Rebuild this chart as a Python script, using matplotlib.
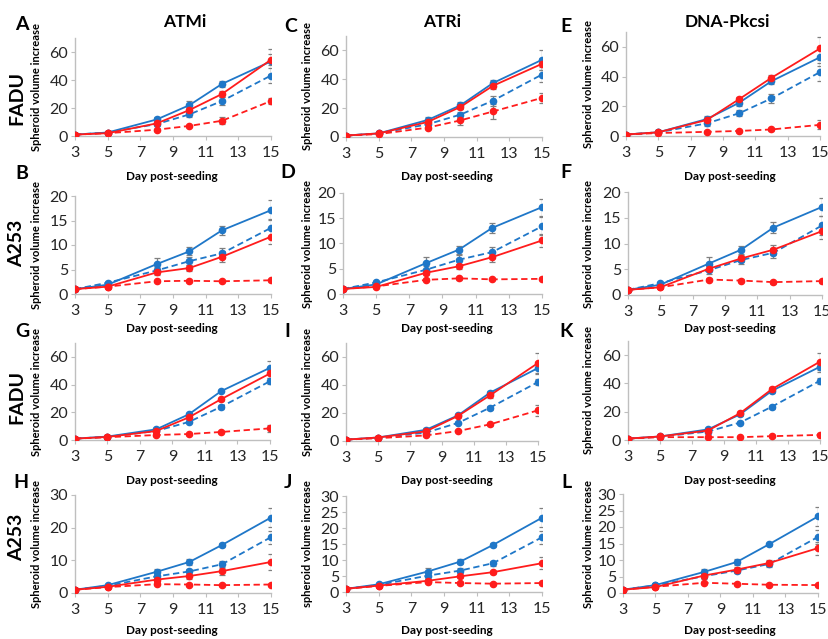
import matplotlib
matplotlib.use("Agg")
import matplotlib.pyplot as plt

plt.rcParams['font.family'] = ['Lato', 'DejaVu Sans']

days = [3, 5, 8, 10, 12, 15]
day_ticks = [3, 5, 7, 9, 11, 13, 15]

# series order: blue solid, blue dashed, red solid, red dashed
A_mean = [[1, 2.5, 11.8, 22, 37.2, 53.3], [1, 2.5, 8.5, 15.4, 25, 43.2],
          [1, 2, 9, 18.5, 30, 54.5], [1, 2, 4.5, 7.2, 10.9, 25]]
A_err = [[0, 0.3, 2, 3, 2, 9], [0, 0.3, 1.5, 2, 3, 5.5],
         [0, 0.3, 1, 1.5, 2, 4], [0, 0.2, 0.8, 1, 2.5, 2]]
C_mean = [[1, 2.5, 11.8, 21.9, 37.4, 53.5], [1, 2.5, 8.8, 15.5, 25.2, 43.3],
          [1, 2.5, 10.4, 20.8, 35.5, 50.7], [1, 2, 6.5, 11.5, 17.7, 27.1]]
C_err = [[0, 0.3, 2, 2.5, 2, 7], [0, 0.3, 1.5, 2, 3.5, 5.5],
         [0, 0.3, 1, 1.5, 2, 4], [0, 0.2, 1, 3, 5, 3.5]]
E_mean = [[1, 2.5, 11.4, 22.4, 36.9, 53], [1, 2.5, 8.5, 15.3, 25.3, 43],
          [1, 2.5, 10.8, 24.8, 39.2, 58.9], [1, 2, 2.8, 3.4, 4.4, 7.5]]
E_err = [[0, 0.3, 2, 2.5, 2, 6], [0, 0.3, 1.5, 2, 3, 6],
         [0, 0.3, 1, 1.5, 2, 8], [0, 0.2, 0.5, 0.8, 1, 3]]
B_mean = [[1, 1.9, 6.1, 8.7, 13, 17.1], [1, 2.3, 4.8, 6.7, 8.3, 13.5],
          [1, 1.5, 4.4, 5.3, 7.6, 11.7], [1, 1.5, 2.6, 2.7, 2.6, 2.8]]
B_err = [[0, 0.3, 1.2, 0.8, 0.9, 2], [0, 0.3, 0.8, 0.8, 1, 1.8],
         [0, 0.2, 0.5, 0.6, 1, 1.5], [0, 0.1, 0.2, 0.2, 0.2, 0.3]]
D_mean = [[1, 1.9, 6.1, 8.8, 13.1, 17.2], [1, 2.3, 4.8, 6.8, 8.3, 13.4],
          [1, 1.4, 4.2, 5.5, 7.3, 10.6], [1, 1.5, 2.8, 3.1, 2.9, 3]]
D_err = [[0, 0.3, 1.2, 0.8, 1, 1.7], [0, 0.3, 0.8, 0.9, 1, 1.8],
         [0, 0.2, 0.4, 0.5, 0.9, 1.2], [0, 0.1, 0.3, 0.3, 0.2, 0.3]]
F_mean = [[1, 2, 6.1, 8.8, 13.1, 17.1], [1, 2.3, 4.8, 6.8, 8.2, 13.5],
          [1, 1.5, 5.1, 7.1, 8.8, 12.4], [1, 1.5, 3, 2.8, 2.5, 2.7]]
F_err = [[0, 0.3, 1.2, 0.8, 1, 1.8], [0, 0.3, 0.8, 0.8, 1, 1.8],
         [0, 0.2, 0.5, 0.6, 1, 1.5], [0, 0.1, 0.3, 0.3, 0.3, 0.3]]
G_mean = [[1, 2.5, 7.7, 18.5, 35.3, 52.1], [1, 2.3, 6.5, 13, 24, 42.4],
          [1, 2.2, 6.5, 16.3, 29.5, 48], [1, 2, 3.6, 4.3, 5.8, 8.4]]
G_err = [[0, 0.3, 1, 1, 1, 5], [0, 0.3, 1, 1, 1.5, 2],
         [0, 0.3, 1, 1, 1, 3], [0, 0.2, 0.5, 0.5, 0.8, 2.5]]
I_mean = [[1, 2.5, 8, 18.3, 34.5, 52.1], [1, 2.3, 6, 12.9, 23.8, 42.1],
          [1, 2.5, 6.9, 17.9, 32.6, 55.7], [1, 2, 4, 7.1, 11.9, 21.9]]
I_err = [[0, 0.3, 1, 1, 1.5, 4], [0, 0.3, 1, 1, 1.5, 2],
         [0, 0.3, 1, 1, 2, 7], [0, 0.2, 0.5, 1, 1, 4]]
K_mean = [[1, 2.5, 7.5, 18.1, 34.8, 51.8], [1, 2.3, 6, 12.3, 23.6, 41.9],
          [1, 2.5, 6.7, 18.9, 36, 55.4], [1, 2, 2, 2, 2.7, 3.6]]
K_err = [[0, 0.3, 1, 1, 1.5, 4], [0, 0.3, 1, 1, 1.5, 2],
         [0, 0.3, 1, 1, 1.5, 6], [0, 0.2, 0.3, 0.3, 0.5, 1]]
H_mean = [[1, 2.4, 6.5, 9.5, 14.7, 23.1], [1, 2.2, 5.1, 6.6, 8.8, 17.1],
          [1, 1.9, 4.1, 5.2, 6.7, 9.5], [1, 1.8, 2.7, 2.6, 2.4, 2.6]]
H_err = [[0, 0.3, 1, 0.8, 0.5, 3], [0, 0.3, 1, 0.8, 1, 2],
         [0, 0.2, 0.8, 0.8, 1.2, 2.5], [0, 0.1, 0.3, 0.3, 0.3, 0.3]]
J_mean = [[1, 2.4, 6.4, 9.5, 14.7, 23.2], [1, 2.2, 5.1, 6.7, 9, 17.1],
          [1, 2, 3.5, 4.9, 6.2, 9], [1, 1.9, 3.1, 2.8, 2.6, 2.8]]
J_err = [[0, 0.3, 1, 0.8, 0.5, 3], [0, 0.3, 1, 0.8, 0.8, 2],
         [0, 0.2, 0.5, 0.5, 0.5, 1.8], [0, 0.1, 0.3, 0.3, 0.3, 0.3]]
L_mean = [[1, 2.4, 6.4, 9.4, 14.8, 23.2], [1, 2.3, 5.1, 6.8, 8.8, 17],
          [1, 1.8, 5.3, 7.1, 9.1, 13.6], [1, 1.9, 3.1, 2.8, 2.5, 2.4]]
L_err = [[0, 0.3, 1, 0.8, 0.5, 3], [0, 0.3, 1, 0.8, 1, 2],
         [0, 0.2, 0.8, 0.8, 1, 2], [0, 0.1, 0.3, 0.3, 0.3, 0.3]]

col_titles = ['ATMi', 'ATRi', 'DNA-Pkcsi']
row_labels = ['FADU', 'A253', 'FADU', 'A253']
y_label = 'Spheroid volume increase'
x_label = 'Day post-seeding'

BLUE = '#1f77c8'
RED = '#ff1c1c'
styles = [(BLUE, '-'), (BLUE, (0, (3.5, 2))), (RED, '-'), (RED, (0, (3.5, 2)))]

W, H = 829, 639

# panel letter, data, pixel box (left, right, bottom, top), ylim, yticks
panels = [
    ('A', A_mean, A_err, (75, 271, 136, 38), 70, [0, 20, 40, 60]),
    ('C', C_mean, C_err, (346, 542, 137, 36), 70, [0, 20, 40, 60]),
    ('E', E_mean, E_err, (626, 820, 136, 32), 70, [0, 20, 40, 60]),
    ('B', B_mean, B_err, (75, 271, 294, 196), 20, [0, 5, 10, 15, 20]),
    ('D', D_mean, D_err, (343, 542, 294, 193), 20, [0, 5, 10, 15, 20]),
    ('F', F_mean, F_err, (628, 822, 295, 192), 20, [0, 5, 10, 15, 20]),
    ('G', G_mean, G_err, (75, 270, 440, 343), 70, [0, 20, 40, 60]),
    ('I', I_mean, I_err, (346, 538, 441, 343), 70, [0, 20, 40, 60]),
    ('K', K_mean, K_err, (628, 820, 440, 341), 70, [0, 20, 40, 60]),
    ('H', H_mean, H_err, (75, 271, 593, 495), 30, [0, 10, 20, 30]),
    ('J', J_mean, J_err, (346, 542, 592, 496), 30, [0, 5, 10, 15, 20, 25, 30]),
    ('L', L_mean, L_err, (623, 818, 593, 494), 30, [0, 5, 10, 15, 20, 25, 30]),
]

ylab_x = [37, 308, 588]
xlab_x = [172, 447, 730]
xlab_y = [176, 328, 480, 630]
letter_pos = {'A': (22, 25), 'C': (291, 26), 'E': (566, 26), 'B': (22, 174),
              'D': (288, 172), 'F': (566, 173), 'G': (22, 332), 'I': (287, 332),
              'K': (566, 332), 'H': (21, 482), 'J': (288, 482), 'L': (566, 483)}

fig = plt.figure(figsize=(W / 100, H / 100), dpi=100)

for i, (letter, means, errs, box, ymax, yticks) in enumerate(panels):
    row, col = divmod(i, 3)
    l, r, b, t = box
    ax = fig.add_axes([l / W, 1 - b / H, (r - l) / W, (b - t) / H])
    for (c, ls), m, e in zip(styles, means, errs):
        ax.errorbar(days, m, yerr=e, color=c, ls=ls, lw=1.3, marker='o', ms=4.5,
                    ecolor='#808080', elinewidth=0.9, capsize=2, capthick=0.9, zorder=3)
    ax.set_xlim(3, 15)
    ax.set_ylim(0, ymax)
    ax.set_xticks(day_ticks)
    ax.set_yticks(yticks)
    for s in ['top', 'right']:
        ax.spines[s].set_visible(False)
    for s in ['left', 'bottom']:
        ax.spines[s].set_color('#bfbfbf')
        ax.spines[s].set_linewidth(1)
    ax.tick_params(labelsize=11.5, colors='#bfbfbf', labelcolor='#262626', length=3, pad=2)
    for lab in ax.get_xticklabels():
        lab.set_y(-0.03)
    ax.patch.set_alpha(0)

    ylab = 'spheroid volume increase' if letter == 'J' else y_label
    fig.text(ylab_x[col] / W, 1 - (b + t) / 2 / H, ylab, rotation=90,
             ha='center', va='center', fontsize=8, fontweight='bold')
    fig.text(xlab_x[col] / W, 1 - xlab_y[row] / H, x_label,
             ha='center', va='center', fontsize=8.5, fontweight='bold')
    lx, ly = letter_pos[letter]
    fig.text(lx / W, 1 - ly / H, letter, ha='center', va='center',
             fontsize=14, fontweight='bold')

for x, title in zip([185, 442, 727], col_titles):
    fig.text(x / W, 1 - 22 / H, title, ha='center', va='center', fontsize=12.5, fontweight='bold')

for y, lab in zip([98, 243, 397, 537], row_labels):
    fig.text(17 / W, 1 - y / H, lab, rotation=90, ha='center', va='center',
             fontsize=14, fontweight='bold')

fig.savefig('out.png', dpi=100)
